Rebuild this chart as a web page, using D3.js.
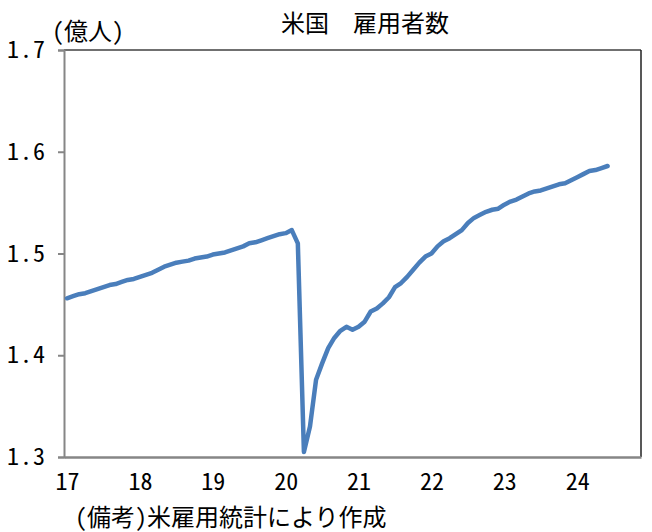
<!DOCTYPE html>
<html>
<head>
<meta charset="utf-8">
<script src="https://cdn.jsdelivr.net/npm/d3@7"></script>
<style>
  body { margin: 0; background: #fff; }
  text { font-family: "Noto Sans CJK JP", sans-serif; fill: #000; font-feature-settings: "hwid" 1; }
  text.title { font-feature-settings: normal; }
</style>
</head>
<body>
<svg id="chart" width="652" height="532"></svg>
<script>
// monthly employment (100 million persons), Jan 2017 - Jun 2024
const employed2017 = [1.456, 1.458, 1.460, 1.461, 1.463, 1.465, 1.467, 1.469, 1.470, 1.472, 1.474, 1.475];
const employed2018 = [1.477, 1.479, 1.481, 1.484, 1.487, 1.489, 1.491, 1.492, 1.493, 1.495, 1.496, 1.497];
const employed2019 = [1.499, 1.500, 1.501, 1.503, 1.505, 1.507, 1.510, 1.511, 1.513, 1.515, 1.517, 1.519];
const employed2020 = [1.520, 1.523, 1.510, 1.305, 1.330, 1.376, 1.392, 1.407, 1.417, 1.424, 1.428, 1.425];
const employed2021 = [1.428, 1.433, 1.443, 1.446, 1.451, 1.457, 1.467, 1.471, 1.477, 1.484, 1.491, 1.497];
const employed2022 = [1.500, 1.507, 1.512, 1.515, 1.519, 1.523, 1.530, 1.535, 1.538, 1.541, 1.543, 1.544];
const employed2023 = [1.548, 1.551, 1.553, 1.556, 1.559, 1.561, 1.562, 1.564, 1.566, 1.568, 1.569, 1.572];
const employed2024 = [1.575, 1.578, 1.581, 1.582, 1.584, 1.586];

const values = [].concat(employed2017, employed2018, employed2019, employed2020,
  employed2021, employed2022, employed2023, employed2024);

const yearLabels = ["17", "18", "19", "20", "21", "22", "23", "24"];
const yTicks = [1.3, 1.4, 1.5, 1.6, 1.7];
const nSlots = 95; // category slots on the axis (Jan 2017 - Nov 2024)

const svg = d3.select("#chart");
const plotL = 64, plotR = 641, plotT = 50, plotB = 457;

const x = d3.scaleLinear().domain([-0.5, nSlots - 0.5]).range([plotL, plotR]);
const y = d3.scaleLinear().domain([1.3, 1.7]).range([plotB, plotT]);

// frame (top / right)
svg.append("line").attr("x1", plotL).attr("x2", plotR).attr("y1", plotT).attr("y2", plotT)
  .attr("stroke", "#404040").attr("stroke-width", 1.5);
svg.append("line").attr("x1", plotR).attr("x2", plotR).attr("y1", plotT).attr("y2", plotB)
  .attr("stroke", "#202020").attr("stroke-width", 1.5);

// y axis
const yAxis = svg.append("g").attr("transform", `translate(${plotL},0)`)
  .call(d3.axisLeft(y).tickValues(yTicks).tickFormat(d3.format(".1f")).tickSize(6).tickPadding(12));
yAxis.select(".domain").attr("stroke", "#868686").attr("stroke-width", 2);
yAxis.selectAll(".tick line").attr("stroke", "#868686").attr("stroke-width", 2);
yAxis.selectAll(".tick text").attr("font-size", 24).attr("letter-spacing", 1)
  .style("font-family", "'Noto Sans CJK JP', sans-serif").attr("fill", "#000");

// x axis
const xAxis = svg.append("g").attr("transform", `translate(0,${plotB})`)
  .call(d3.axisBottom(x).tickValues(yearLabels.map((d, i) => i * 12))
    .tickFormat((d, i) => yearLabels[i]).tickSize(0).tickPadding(16));
xAxis.select(".domain").attr("stroke", "#868686").attr("stroke-width", 2.5);
xAxis.selectAll(".tick text").attr("font-size", 24)
  .style("font-family", "'Noto Sans CJK JP', sans-serif").attr("fill", "#000");

// line
const line = d3.line().x((d, i) => x(i)).y(d => y(d));
svg.append("path").datum(values).attr("d", line)
  .attr("fill", "none").attr("stroke", "#4A7EBB").attr("stroke-width", 4.5)
  .attr("stroke-linejoin", "round").attr("stroke-linecap", "round");

// texts
svg.append("text").attr("class", "title").attr("x", 365).attr("y", 32).attr("text-anchor", "middle")
  .attr("font-size", 24).text("米国　雇用者数");
svg.append("text").attr("x", 52).attr("y", 40).attr("font-size", 24).text("(億人)");
svg.append("text").attr("x", 75).attr("y", 526).attr("font-size", 24).text("(備考)米雇用統計により作成");
</script>
</body>
</html>
